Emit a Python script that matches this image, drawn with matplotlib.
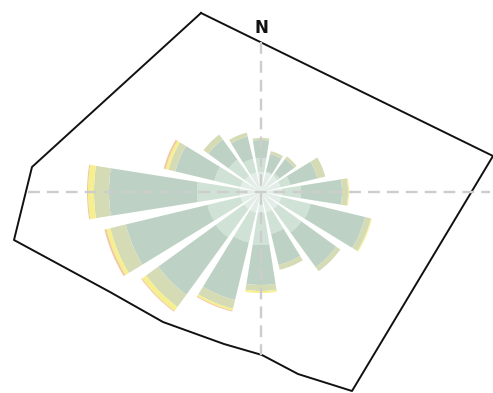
import numpy as np
import matplotlib
matplotlib.use("Agg")
import matplotlib.pyplot as plt

# wind directions, clockwise from north
directions = ["N", "NNE", "NE", "ENE", "E", "ESE", "SE", "SSE", "S", "SSW", "SW", "WSW", "W", "WNW", "NW", "NNW"]

# cumulative outer radius of each speed class per direction
class1 = [20, 20, 20, 20, 21, 21, 21, 21, 21, 21, 21, 21, 21, 21, 20, 20]
class2 = [34, 21, 23, 30, 40, 51, 50, 43, 53, 52, 56, 55, 64, 48, 40, 34]
class3 = [52, 39, 41, 58, 81, 107, 93, 75, 93, 111, 127, 139, 152, 88, 65, 57]
class4 = [54, 42, 44, 66, 87, 113, 98, 80, 99, 120, 142, 155, 167, 95, 71, 61]
class5 = [54, 42, 44, 66, 88, 114, 98, 80, 101, 122, 147, 159, 173, 98, 71, 61]
class6 = [54, 42, 44, 66, 88, 114, 98, 80, 101, 123, 148, 161, 174, 100, 71, 61]
classes = [class1, class2, class3, class4, class5, class6]
colors = ["#e1ede6", "#d0e2d6", "#bdd2c5", "#d5dbb5", "#f6ef8e", "#f2c8a2"]

# boundary of the site
boundary_x = [201, 493, 352, 298, 262, 224, 163, 110, 14, 32, 201]
boundary_y = [13, 156, 391, 374, 355, 344, 322, 292, 240, 167, 13]

fig = plt.figure(figsize=(4.93, 3.93), dpi=100)

ax = fig.add_axes([0, 0, 1, 1])
ax.set_xlim(0, 493)
ax.set_ylim(393, 0)
ax.axis("off")
ax.plot(boundary_x, boundary_y, color="#111111", lw=1.4)
ax.text(261, 28, "N", ha="center", va="center", fontsize=12, fontweight="bold", color="#111111")

# polar axes sitting on the crosshair, 1 unit = 1 pixel
R = 180
cx, cy = 261, 192
polar = fig.add_axes([(cx - R) / 493, (393 - cy - R) / 393, 2 * R / 493, 2 * R / 393], projection="polar")
polar.set_theta_zero_location("N")
polar.set_theta_direction(-1)
polar.set_ylim(0, R)
polar.axis("off")
polar.patch.set_alpha(0)

angles = np.deg2rad(np.arange(len(directions)) * 22.5)
width = np.deg2rad(18)
bottom = np.zeros(len(directions))
for vals, c in zip(classes, colors):
    vals = np.array(vals)
    polar.bar(angles, vals - bottom, width=width, bottom=bottom, color=c, linewidth=0)
    bottom = vals

# crosshair on top of the wedges
top = fig.add_axes([0, 0, 1, 1])
top.set_xlim(0, 493)
top.set_ylim(393, 0)
top.axis("off")
top.patch.set_alpha(0)
top.plot([cx, cx], [42, 355], color="#cdcdcd", lw=1.7, ls=(0, (5, 3)))
top.plot([28, 490], [cy, cy], color="#cdcdcd", lw=1.7, ls=(0, (5, 3)))

fig.savefig("out.png", dpi=100)
